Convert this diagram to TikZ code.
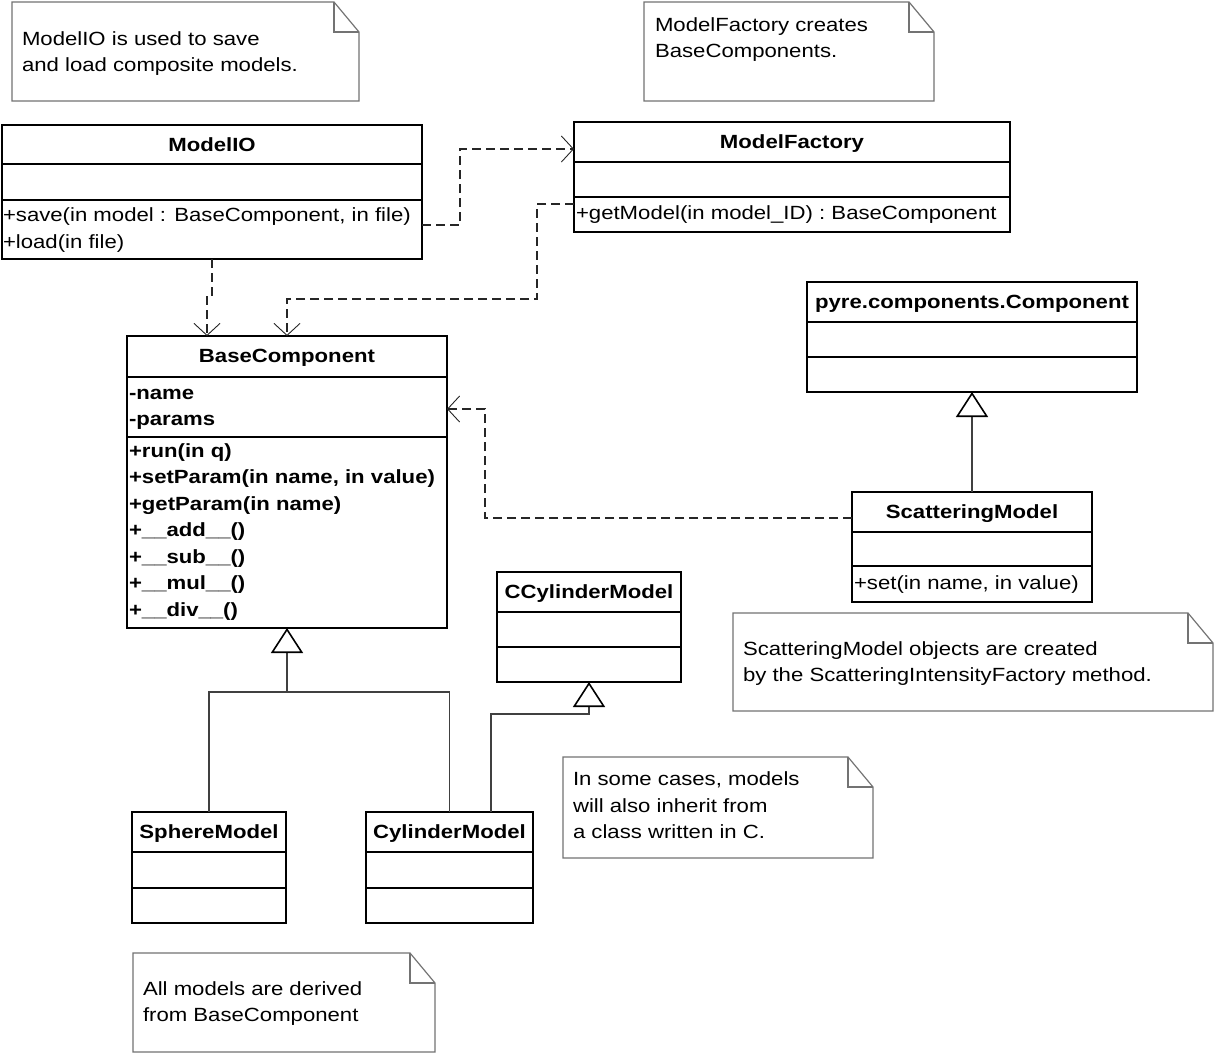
\documentclass[tikz,border=0pt]{standalone}
\usepackage{fontspec}
\setmainfont[FakeStretch=1.16]{Liberation Sans}
\usetikzlibrary{arrows.meta}
\newcommand\umlsep[2]{\draw[clsline] ([yshift=-#2pt]#1.north west) -- ([yshift=-#2pt]#1.north east);}
\newcommand\umlnote[4]{%
  \draw[notebdr] (#1,#2) -- ({#3-25},#2) -- (#3,{#2+30}) -- (#3,#4) -- (#1,#4) -- cycle;
  \draw[notebdr] ({#3-25},#2) -- ({#3-25},{#2+30}) -- (#3,{#2+30});}
\begin{document}
\begin{tikzpicture}[x=1pt,y=-1pt,
  cls/.style={draw=black, line width=1.8pt, inner sep=0pt, outer sep=0pt, anchor=north west},
  clsline/.style={draw=black, line width=1.8pt},
  txt/.style={inner sep=0pt, outer sep=0pt, font=\fontsize{19.1}{22}\selectfont},
  ttl/.style={inner sep=0pt, outer sep=0pt, font=\fontsize{19.1}{22}\selectfont\bfseries, anchor=base},
  mem/.style={txt, anchor=base west},
  bmem/.style={inner sep=0pt, outer sep=0pt, font=\fontsize{19.1}{22}\selectfont\bfseries, anchor=base west},
  notebdr/.style={draw=black!55, line width=1.2pt},
  dep/.style={draw=black!85, line width=1.2pt, dash pattern=on 9pt off 5pt,
    -{Straight Barb[length=12pt,width=26pt,line width=0.9pt]}},
  gen/.style={draw=black!75, line width=1.1pt},
  inh/.style={gen, -{Triangle[open, length=25pt, width=32pt, line width=1.6pt, color=black]}}
]
\fill[white] (0,0) rectangle (1214,1053);
\useasboundingbox (0,0) rectangle (1214,1053);

% ---------- notes ----------
\umlnote{12}{2}{359}{101}
\node[mem] (n1a) at (22,45) {ModelIO is used to save};
\node[mem] (n1b) at (22,71) {and load composite models.};

\umlnote{644}{2}{934}{101}
\node[mem] (n2a) at (655,31) {ModelFactory creates};
\node[mem] (n2b) at (655,57) {BaseComponents.};

\umlnote{563}{757}{873}{858}
\node[mem] (n3a) at (573,785) {In some cases, models};
\node[mem] (n3b) at (573,812) {will also inherit from};
\node[mem] (n3c) at (573,838) {a class written in C.};

\umlnote{733}{613}{1213}{711}
\node[mem] (n4a) at (743,655) {ScatteringModel objects are created};
\node[mem] (n4b) at (743,681) {by the ScatteringIntensityFactory method.};

\umlnote{133}{953}{435}{1052}
\node[mem] (n5a) at (143,995) {All models are derived};
\node[mem] (n5b) at (143,1021) {from BaseComponent};

% ---------- classes ----------
\node[cls, minimum width=420pt, minimum height=134pt] (mio) at (2,125) {};
\umlsep{mio}{39}\umlsep{mio}{75}
\node[ttl] (miot) at (212,151) {ModelIO};
\node[mem] (mio1) at (3,221) {+save(in model : BaseComponent, in file)};
\node[mem] (mio2) at (3,248) {+load(in file)};

\node[cls, minimum width=436pt, minimum height=110pt] (mf) at (574,122) {};
\umlsep{mf}{40}\umlsep{mf}{75}
\node[ttl] (mft) at (792,148) {ModelFactory};
\node[mem] (mf1) at (576,219) {+getModel(in model\_ID) : BaseComponent};

\node[cls, minimum width=320pt, minimum height=292pt] (bc) at (127,336) {};
\umlsep{bc}{41}\umlsep{bc}{101}
\node[ttl] (bct) at (287,362) {BaseComponent};
\node[bmem] (bc1) at (129,399) {-name};
\node[bmem] (bc2) at (129,425) {-params};
\node[bmem] (bc3) at (129,457) {+run(in q)};
\node[bmem] (bc4) at (129,483.5) {+setParam(in name, in value)};
\node[bmem] (bc5) at (129,510) {+getParam(in name)};
\node[bmem] (bc6) at (129,536.5) {+\_\_add\_\_()};
\node[bmem] (bc7) at (129,563) {+\_\_sub\_\_()};
\node[bmem] (bc8) at (129,589.5) {+\_\_mul\_\_()};
\node[bmem] (bc9) at (129,616) {+\_\_div\_\_()};

\node[cls, minimum width=330pt, minimum height=110pt] (pyre) at (807,282) {};
\umlsep{pyre}{40}\umlsep{pyre}{75}
\node[ttl] (pyret) at (972,308) {pyre.components.Component};

\node[cls, minimum width=240pt, minimum height=110pt] (sm) at (852,492) {};
\umlsep{sm}{40}\umlsep{sm}{74}
\node[ttl] (smt) at (972,518) {ScatteringModel};
\node[mem] (sm1) at (854,589) {+set(in name, in value)};

\node[cls, minimum width=184pt, minimum height=110pt] (ccyl) at (497,572) {};
\umlsep{ccyl}{40}\umlsep{ccyl}{75}
\node[ttl] (ccylt) at (589,598) {CCylinderModel};

\node[cls, minimum width=154pt, minimum height=111pt] (sph) at (132,812) {};
\umlsep{sph}{40}\umlsep{sph}{76}
\node[ttl] (spht) at (209,838) {SphereModel};

\node[cls, minimum width=167pt, minimum height=111pt] (cyl) at (366,812) {};
\umlsep{cyl}{40}\umlsep{cyl}{76}
\node[ttl] (cylt) at (449.5,838) {CylinderModel};

% ---------- dependencies ----------
\draw[dep] ([yshift=-33pt]mio.east) -- ++(38,0) |- ([yshift=28pt]mf.west);
\draw[dep] ([yshift=-27pt]mf.west) -- ++(-37,0) -- ++(0,95) -| (bc.north);
\draw[dep] (mio.south) -- ++(0,36) -| ([xshift=-80pt]bc.north);
\draw[dep] ([yshift=29pt]sm.west) -- ++(-367,0) |- ([yshift=73pt]bc.east);

% ---------- generalisations ----------
\coordinate (j1) at (287,692);
\draw[gen] (sph.north) |- (j1);
\draw[gen] (cyl.north) |- (j1);
\draw[inh] (j1) -- (bc.south);
\draw[inh] ([xshift=41.5pt]cyl.north) -- ++(0,-98) -| (ccyl.south);
\draw[inh] (sm.north) -- (pyre.south);
\end{tikzpicture}
\end{document}
